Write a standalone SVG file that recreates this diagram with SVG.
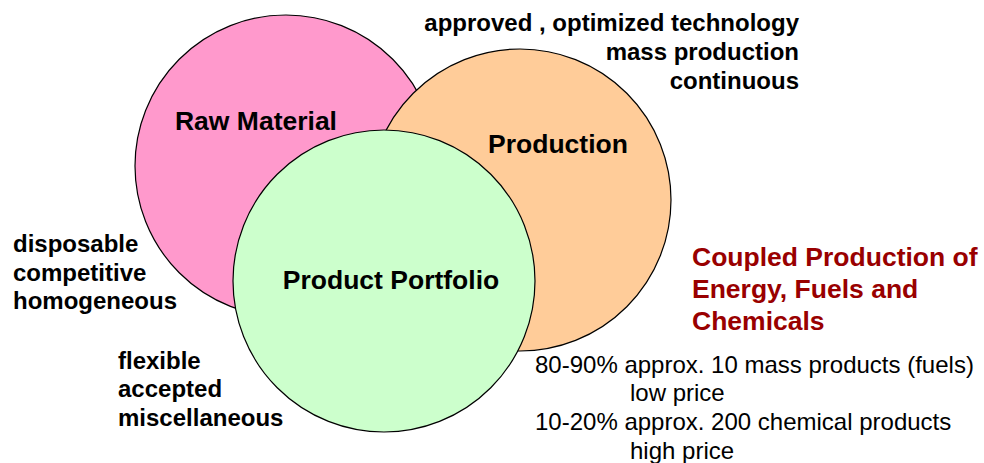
<svg xmlns="http://www.w3.org/2000/svg" width="984" height="463" viewBox="0 0 984 463">
<style>
.c{stroke:#000;stroke-width:1.2}
.lbl{font-family:"Liberation Sans",Arial,sans-serif;font-weight:bold;font-size:26.5px;fill:#000}
.b{font-family:"Liberation Sans",Arial,sans-serif;font-weight:bold;font-size:24px;fill:#000}
.n{font-family:"Liberation Sans",Arial,sans-serif;font-size:24px;fill:#000}
.red{font-family:"Liberation Sans",Arial,sans-serif;font-weight:bold;font-size:26.5px;fill:#990000}
</style>
<rect width="984" height="463" fill="#fff"/>
<g id="raw-material">
<circle class="c" cx="286" cy="166" r="151" fill="#FF99CC"/>
<text class="lbl" x="256" y="130" text-anchor="middle">Raw Material</text>
</g>
<g id="production">
<circle class="c" cx="520" cy="200" r="151" fill="#FFCC99"/>
<text class="lbl" x="558" y="153" text-anchor="middle">Production</text>
</g>
<g id="product-portfolio">
<circle class="c" cx="384" cy="281" r="151" fill="#CCFFCC"/>
<text class="lbl" x="391" y="289" text-anchor="middle">Product Portfolio</text>
</g>
<g id="connectors"></g>
<g id="production-notes">
<text class="b" x="799" y="30.5" text-anchor="end">approved , optimized technology</text>
<text class="b" x="799" y="59.5" text-anchor="end">mass production</text>
<text class="b" x="799" y="88.5" text-anchor="end">continuous</text>
</g>
<g id="raw-material-notes">
<text class="b" x="13" y="252">disposable</text>
<text class="b" x="13" y="280.5">competitive</text>
<text class="b" x="13" y="309">homogeneous</text>
</g>
<g id="portfolio-notes">
<text class="b" x="118" y="368.5">flexible</text>
<text class="b" x="118" y="397">accepted</text>
<text class="b" x="118" y="425.5">miscellaneous</text>
</g>
<g id="coupled">
<text class="red" x="692" y="266">Coupled Production of</text>
<text class="red" x="692" y="298">Energy, Fuels and</text>
<text class="red" x="692" y="330">Chemicals</text>
</g>
<g id="shares">
<text class="n" x="535" y="372.5">80-90% approx. 10 mass products (fuels)</text>
<text class="n" x="630" y="401">low price</text>
<text class="n" x="535" y="430">10-20% approx. 200 chemical products</text>
<text class="n" x="630" y="459">high price</text>
</g>
</svg>
